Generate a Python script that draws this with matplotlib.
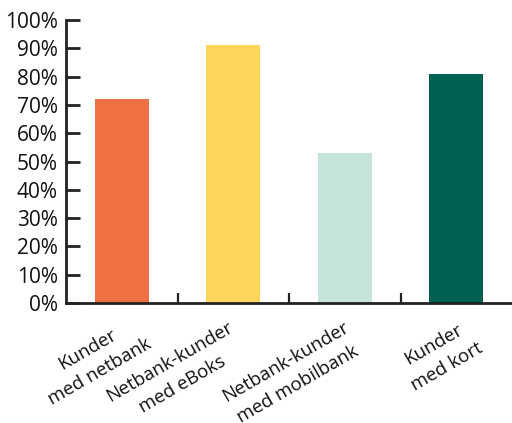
import numpy as np
import matplotlib.pyplot as plt
from matplotlib.ticker import FuncFormatter, MultipleLocator

# =====================================
# Data
# =====================================

categories = [
    "Kunder\nmed netbank",
    "Netbank-kunder\nmed eBoks",
    "Netbank-kunder\nmed mobilbank",
    "Kunder\nmed kort",
]

values = [72, 91, 53, 81]

colors = ["#EE7043", "#FFD65C", "#C7E4D9", "#006152"]

# label centre offsets (pixels) relative to each category at the x axis
label_dx = [-28, -57, -53, -16]
label_dy = [-58, -70, -70, -53]

# =====================================
# Figure
# =====================================

plt.rcParams["font.family"] = ["Open Sans", "DejaVu Sans"]

fig = plt.figure(figsize=(5.12, 4.23), dpi=100)
ax = fig.add_axes([66 / 512, 1 - 303 / 423, 1 - 66 / 512, 283 / 423])

x = np.arange(len(categories))

ax.bar(x, values, width=0.48, color=colors)

ax.set_xlim(-0.5, len(categories) - 0.5)
ax.set_ylim(0, 100)

ax.yaxis.set_major_locator(MultipleLocator(10))
ax.yaxis.set_major_formatter(FuncFormatter(lambda v, p: f"{v:.0f}%"))

ax.set_xticks(x[:-1] + 0.5)
ax.set_xticklabels([])

ax.tick_params(axis="y", direction="in", length=10, width=2,
               color="#222222", labelsize=15, labelcolor="#111111", pad=6)
ax.tick_params(axis="x", direction="in", length=7, width=1.6,
               color="#222222")

for side in ["top", "right"]:
    ax.spines[side].set_visible(False)

for side in ["left", "bottom"]:
    ax.spines[side].set_linewidth(2)
    ax.spines[side].set_color("#222222")

for i, label in enumerate(categories):
    ax.annotate(
        label,
        xy=(x[i], 0),
        xycoords=("data", "axes fraction"),
        xytext=(label_dx[i], label_dy[i]),
        textcoords="offset pixels",
        ha="center",
        va="center",
        rotation=30,
        rotation_mode="anchor",
        multialignment="center",
        linespacing=1.55,
        fontsize=13.5,
        color="#111111",
        annotation_clip=False,
    )

fig.savefig("out.png", dpi=100)
